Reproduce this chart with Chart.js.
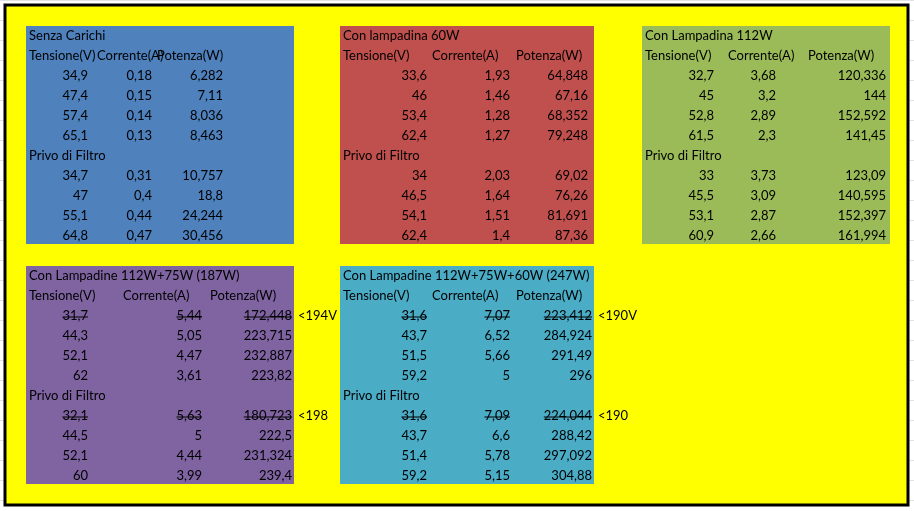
<!DOCTYPE html>
<html><head><meta charset="utf-8">
<script src="https://cdn.jsdelivr.net/npm/chart.js@4/dist/chart.umd.min.js"></script>
<style>html,body{margin:0;padding:0;background:#fff}canvas{display:block}</style>
</head><body>
<canvas id="c" width="914" height="511"></canvas>
<script>
const tableTitles = ["Senza Carichi","Con lampadina 60W","Con Lampadina 112W","Con Lampadine 112W+75W (187W)","Con Lampadine 112W+75W+60W (247W)"];
const headerLabels = ["Tensione(V)","Corrente(A)","Potenza(W)"];
const subTitle = "Privo di Filtro";
const colors = ["#4F81BD","#C0504D","#9BBB59","#8064A2","#4BACC6"];
const senzaCarichi = [["34,9","0,18","6,282"],["47,4","0,15","7,11"],["57,4","0,14","8,036"],["65,1","0,13","8,463"]];
const senzaCarichiNoFiltro = [["34,7","0,31","10,757"],["47","0,4","18,8"],["55,1","0,44","24,244"],["64,8","0,47","30,456"]];
const lamp60 = [["33,6","1,93","64,848"],["46","1,46","67,16"],["53,4","1,28","68,352"],["62,4","1,27","79,248"]];
const lamp60NoFiltro = [["34","2,03","69,02"],["46,5","1,64","76,26"],["54,1","1,51","81,691"],["62,4","1,4","87,36"]];
const lamp112 = [["32,7","3,68","120,336"],["45","3,2","144"],["52,8","2,89","152,592"],["61,5","2,3","141,45"]];
const lamp112NoFiltro = [["33","3,73","123,09"],["45,5","3,09","140,595"],["53,1","2,87","152,397"],["60,9","2,66","161,994"]];
const lamp187 = [["31,7","5,44","172,448"],["44,3","5,05","223,715"],["52,1","4,47","232,887"],["62","3,61","223,82"]];
const lamp187NoFiltro = [["32,1","5,63","180,723"],["44,5","5","222,5"],["52,1","4,44","231,324"],["60","3,99","239,4"]];
const lamp247 = [["31,6","7,07","223,412"],["43,7","6,52","284,924"],["51,5","5,66","291,49"],["59,2","5","296"]];
const lamp247NoFiltro = [["31,6","7,09","224,044"],["43,7","6,6","288,42"],["51,4","5,78","297,092"],["59,2","5,15","304,88"]];
const notes = [null,null,null,["<194V","<198"],["<190V","<190"]];

const tables = [
 {d1:senzaCarichi,d2:senzaCarichiNoFiltro,box:[26,26,294,244],hx:[29,97,157],vr:[88,152,223],strike:false},
 {d1:lamp60,d2:lamp60NoFiltro,box:[340,26,594,244],hx:[343,432,516],vr:[427,510,588],strike:false},
 {d1:lamp112,d2:lamp112NoFiltro,box:[642,26,890,244],hx:[645,728,808],vr:[714,776,886],strike:false},
 {d1:lamp187,d2:lamp187NoFiltro,box:[26,266,294,484],hx:[29,123,210],vr:[88,202,292],strike:true,nx:298},
 {d1:lamp247,d2:lamp247NoFiltro,box:[340,266,594,484],hx:[343,432,516],vr:[427,510,592],strike:true,nx:598}
];

const sheetPlugin = {
 id:'sheet',
 beforeDraw(chart){
  const ctx=chart.ctx, X=chart.scales.x, Y=chart.scales.y;
  const px=v=>X.getPixelForValue(v), py=v=>Y.getPixelForValue(v);
  ctx.save();
  ctx.fillStyle='#fff';ctx.fillRect(0,0,914,511);
  ctx.strokeStyle='#e2e2e2';ctx.lineWidth=1;
  for(let y=0.5;y<511;y+=20){ctx.beginPath();ctx.moveTo(0,y);ctx.lineTo(914,y);ctx.stroke();}
  ctx.fillStyle='#FFFF00';ctx.fillRect(px(5),py(5),px(908)-px(5),py(505)-py(5));
  ctx.strokeStyle='#000';ctx.lineWidth=3;ctx.strokeRect(px(5),py(5),px(908)-px(5),py(505)-py(5));
  ctx.font='13px Lato, "Open Sans", sans-serif';ctx.textBaseline='middle';
  tables.forEach((t,i)=>{
   const [x0,y0,x1,y1]=t.box;
   ctx.fillStyle=colors[i];ctx.fillRect(px(x0),py(y0),px(x1)-px(x0),py(y1)-py(y0));
   ctx.fillStyle='#000';
   const row=r=>py(y0+10+20*r);
   ctx.textAlign='left';
   ctx.fillText(tableTitles[i],px(x0+3),row(0));
   headerLabels.forEach((h,k)=>ctx.fillText(h,px(t.hx[k]),row(1)));
   ctx.fillText(subTitle,px(x0+3),row(6));
   const drawRows=(d,start)=>d.forEach((r,ri)=>{
    r.forEach((v,k)=>{
     ctx.textAlign='right';ctx.fillText(v,px(t.vr[k]),row(start+ri));
     if(t.strike&&ri===0){const w=ctx.measureText(v).width;ctx.fillRect(px(t.vr[k])-w,row(start)+0.5,w,1);}
    });
   });
   drawRows(t.d1,2);drawRows(t.d2,7);
   if(notes[i]){ctx.textAlign='left';ctx.fillText(notes[i][0],px(t.nx),row(2));ctx.fillText(notes[i][1],px(t.nx),row(7));}
  });
  ctx.restore();
 }
};

new Chart(document.getElementById('c'),{
 type:'scatter',
 data:{datasets:[{data:[]}]},
 options:{responsive:false,animation:false,devicePixelRatio:1,layout:{padding:0},
  plugins:{legend:{display:false},tooltip:{enabled:false}},
  scales:{x:{type:'linear',min:0,max:914,display:false},y:{type:'linear',min:0,max:511,reverse:true,display:false}}},
 plugins:[sheetPlugin]
});
</script>
</body></html>
